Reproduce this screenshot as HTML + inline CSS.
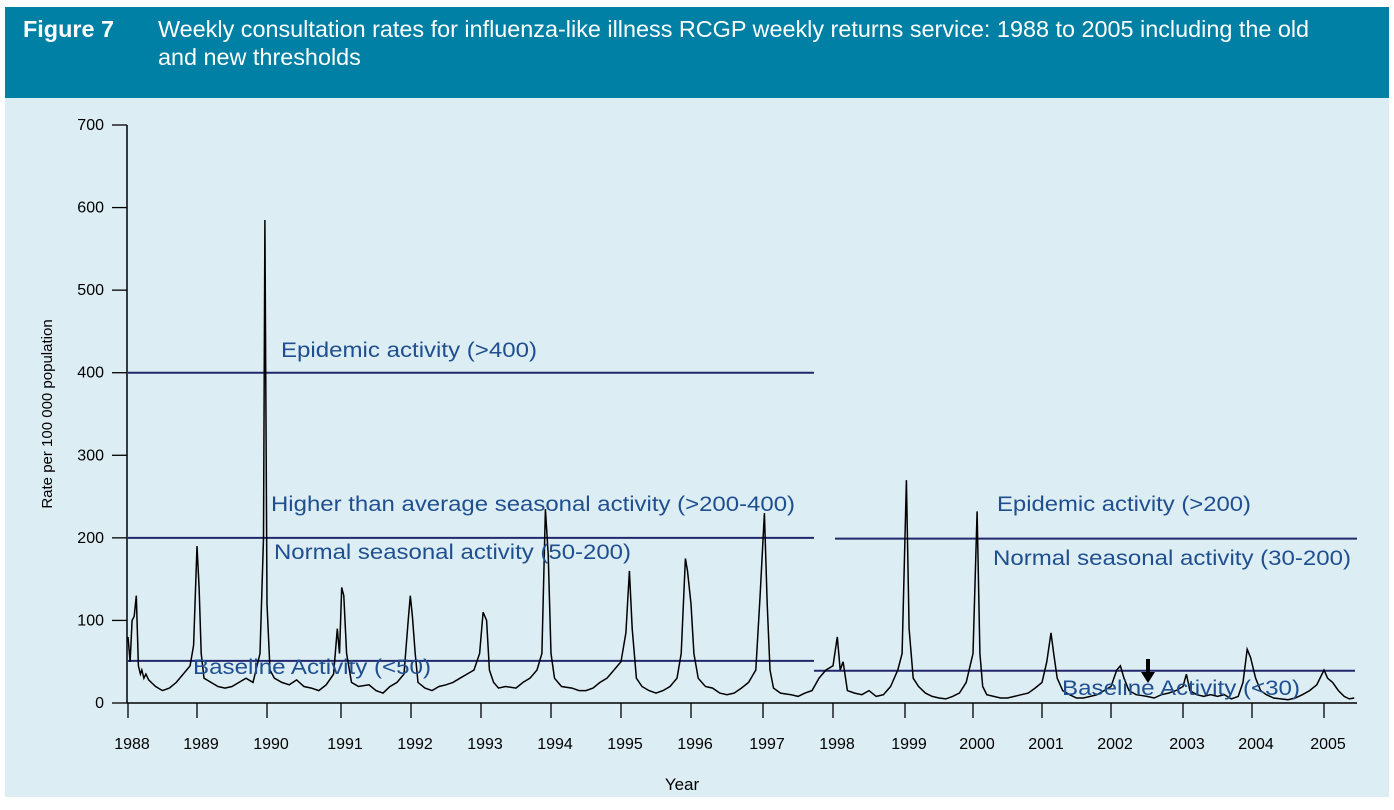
<!DOCTYPE html>
<html><head><meta charset="utf-8"><style>
body{margin:0;background:#fff;width:1394px;height:810px;overflow:hidden;font-family:"Liberation Sans",sans-serif}
#hdr{position:absolute;left:5px;top:7px;width:1384px;height:91px;background:#0080a4;color:#fff}
#panel{position:absolute;left:5px;top:98px;width:1384px;height:699px;background:#dcedf4}
svg{position:absolute;left:0;top:0}
</style></head><body>
<div id="hdr">
<div style="position:absolute;left:18px;top:9px;font-size:23.4px;font-weight:bold">Figure 7</div>
<div style="position:absolute;left:153px;top:8px;font-size:23.4px;line-height:28px;width:1195px">Weekly consultation rates for influenza-like illness RCGP weekly returns service: 1988 to 2005 including the old and new thresholds</div>
</div>
<div id="panel"></div>
<svg id="c" width="1394" height="810"></svg>
<script>
const yearLabels=[1988,1989,1990,1991,1992,1993,1994,1995,1996,1997,1998,1999,2000,2001,2002,2003,2004,2005];
const yearTickPx=[128,197,267,341,411,481,551,621,691,763,833,905,973,1042,1111,1183,1252,1324];
const yTicks=[0,100,200,300,400,500,600,700];
const seriesYears=[1988.0,1988.03,1988.06,1988.09,1988.12,1988.15,1988.18,1988.2,1988.23,1988.26,1988.3,1988.4,1988.5,1988.6,1988.7,1988.8,1988.9,1988.95,1989.0,1989.03,1989.06,1989.1,1989.2,1989.3,1989.4,1989.5,1989.6,1989.7,1989.8,1989.9,1989.95,1989.97,1990.0,1990.04,1990.1,1990.2,1990.3,1990.4,1990.5,1990.6,1990.7,1990.8,1990.9,1990.95,1990.98,1991.01,1991.04,1991.08,1991.15,1991.25,1991.4,1991.5,1991.6,1991.7,1991.8,1991.9,1991.96,1991.99,1992.02,1992.06,1992.1,1992.2,1992.3,1992.4,1992.5,1992.6,1992.7,1992.8,1992.9,1992.98,1993.03,1993.08,1993.12,1993.18,1993.25,1993.35,1993.5,1993.6,1993.7,1993.8,1993.87,1993.92,1993.96,1994.0,1994.05,1994.15,1994.3,1994.4,1994.5,1994.6,1994.7,1994.8,1994.9,1995.0,1995.07,1995.12,1995.16,1995.22,1995.3,1995.4,1995.5,1995.6,1995.7,1995.8,1995.86,1995.92,1995.95,1996.0,1996.04,1996.1,1996.2,1996.3,1996.4,1996.5,1996.6,1996.7,1996.8,1996.9,1996.96,1997.02,1997.06,1997.1,1997.15,1997.25,1997.4,1997.5,1997.6,1997.7,1997.8,1997.9,1998.0,1998.06,1998.1,1998.14,1998.2,1998.3,1998.4,1998.5,1998.6,1998.7,1998.8,1998.9,1998.96,1999.02,1999.06,1999.12,1999.2,1999.3,1999.4,1999.5,1999.6,1999.7,1999.8,1999.9,2000.0,2000.06,2000.1,2000.14,2000.2,2000.3,2000.4,2000.5,2000.6,2000.7,2000.8,2000.9,2001.0,2001.07,2001.13,2001.17,2001.22,2001.3,2001.4,2001.5,2001.6,2001.7,2001.8,2001.9,2002.0,2002.08,2002.13,2002.18,2002.25,2002.35,2002.5,2002.6,2002.7,2002.8,2002.9,2003.0,2003.05,2003.1,2003.2,2003.3,2003.4,2003.5,2003.6,2003.7,2003.8,2003.87,2003.93,2003.98,2004.05,2004.12,2004.2,2004.3,2004.4,2004.5,2004.6,2004.7,2004.8,2004.9,2005.0,2005.05,2005.12,2005.2,2005.28,2005.35,2005.42];
const seriesValues=[80,50,100,105,130,45,35,40,30,35,28,20,15,18,25,35,45,70,190,140,60,30,25,20,18,20,25,30,25,60,200,585,120,40,30,25,22,28,20,18,15,22,35,90,60,140,130,60,25,20,22,15,12,20,25,35,100,130,105,60,25,18,15,20,22,25,30,35,40,60,110,100,40,25,18,20,18,25,30,40,60,235,180,60,30,20,18,15,15,18,25,30,40,50,85,160,90,30,20,15,12,15,20,30,60,175,160,120,60,30,20,18,12,10,12,18,25,40,130,230,120,40,18,12,10,8,12,15,30,40,45,80,40,50,15,12,10,15,8,10,20,40,60,270,90,30,20,12,8,6,5,8,12,25,60,232,60,20,10,8,6,6,8,10,12,18,25,50,85,60,30,15,10,6,6,8,10,15,20,40,45,30,15,10,8,6,10,12,15,20,35,15,10,8,10,8,10,5,8,25,65,55,30,15,10,6,5,4,6,10,15,22,40,30,25,15,8,5,6];
const svg=document.getElementById('c');const NS='http://www.w3.org/2000/svg';
function xOf(yr){const i=Math.min(Math.max(Math.floor(yr-1988),0),yearTickPx.length-2);return yearTickPx[i]+(yr-1988-i)*(yearTickPx[i+1]-yearTickPx[i]);}
function yOf(v){return 703-v*(578/700);}
function mk(t,a,txt){const e=document.createElementNS(NS,t);for(const k in a)e.setAttribute(k,a[k]);if(txt!==undefined)e.textContent=txt;svg.appendChild(e);return e;}
let e=mk('line',{x1:127,y1:yOf(0),x2:127,y2:yOf(700),stroke:'#000','stroke-width':1.5});


e=mk('line',{x1:127,y1:yOf(0),x2:1357,y2:yOf(0),stroke:'#000','stroke-width':1.5});


yTicks.forEach(v=>{mk('line',{x1:112,y1:yOf(v),x2:127,y2:yOf(v),stroke:'#000','stroke-width':1.3});
const t=mk('text',{x:104,y:yOf(v)+5,'text-anchor':'end','font-size':16,fill:'#000'},v);

});
yearLabels.forEach((yr,i)=>{const x=yearTickPx[i];mk('line',{x1:x,y1:yOf(0),x2:x,y2:yOf(0)+15,stroke:'#000','stroke-width':1.3});
const t=mk('text',{x:x+4,y:749,'text-anchor':'middle','font-size':16,fill:'#000'},yr);

});
e=mk('text',{x:682,y:790,'text-anchor':'middle','font-size':17},'Year');


e=mk('text',{transform:'translate(52,414) rotate(-90)','text-anchor':'middle','font-size':15},'Rate per 100 000 population');


const thr=[[128,814,400],[128,814,200],[128,814,51],[835,1357,199],[814,1355,39]];
thr.forEach(t=>{const l=mk('line',{x1:t[0],y1:yOf(t[2]),x2:t[1],y2:yOf(t[2]),stroke:'#23276b','stroke-width':2});

});
let d='';seriesYears.forEach((yr,i)=>{d+=(i?'L':'M')+xOf(yr).toFixed(1)+','+yOf(seriesValues[i]).toFixed(1);});
e=mk('path',{d:d,fill:'none',stroke:'#000','stroke-width':1.5});


const labs=[[281,357,256,'Epidemic activity (>400)'],[271,511,524,'Higher than average seasonal activity (>200-400)'],[274,559,357,'Normal seasonal activity (50-200)'],[193,674,238,'Baseline Activity (<50)'],[997,511,254,'Epidemic activity (>200)'],[993,565,358,'Normal seasonal activity (30-200)'],[1062,695,238,'Baseline Activity (<30)']];
labs.forEach(l=>{const t=mk('text',{x:l[0],y:l[1],'font-size':21,fill:'#1f4f8f',textLength:l[2],lengthAdjust:'spacingAndGlyphs'},l[3]);

});
e=mk('path',{d:'M1146,659 L1146,672 L1141,672 L1148,683 L1155,672 L1150,672 L1150,659 Z',fill:'#000'});


</script>
</body></html>
